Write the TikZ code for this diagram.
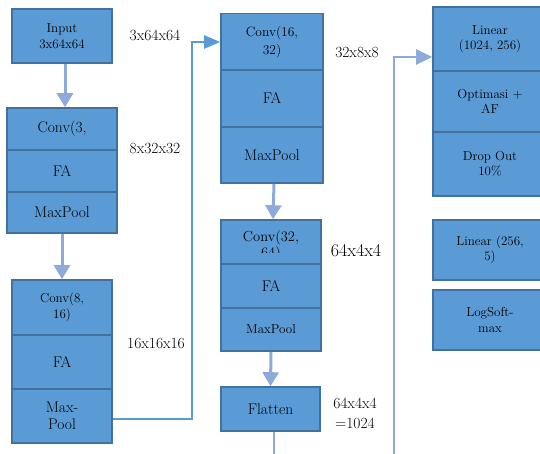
\documentclass[tikz,border=0pt]{standalone}
\usetikzlibrary{arrows.meta}
\definecolor{boxfill}{HTML}{5B9BD5}
\definecolor{boxline}{HTML}{41719C}
\definecolor{lav}{HTML}{8EAADB}
\definecolor{conn}{HTML}{5B9BD5}
\newcommand\fsmall{\fontsize{13}{15.5}\selectfont}
\newcommand\fbig{\fontsize{15.5}{17}\selectfont}
\tikzset{
  cell/.style={draw=boxline, fill=boxfill, line width=1.6pt, inner sep=0pt, align=center, font=\fbig},
  smallcell/.style={cell, font=\fsmall},
  lbl/.style={inner sep=0pt, align=center, font=\fbig},
  thickarrow/.style={draw=lav, line width=3pt, -{Triangle[length=14pt,width=16pt]}},
  thinlav/.style={draw=lav, line width=2.2pt},
  bluearrow/.style={draw=conn, line width=2.2pt, -{Triangle[length=16pt,width=13pt]}},
  lavarrow/.style={draw=lav, line width=2.2pt, -{Triangle[length=16pt,width=15pt]}}
}
\begin{document}
\begin{tikzpicture}[x=1pt, y=-1pt]
\useasboundingbox (0,0) rectangle (540,454);
\clip (0,0) rectangle (540,454);
% column 1
\node[smallcell, minimum width=100pt, minimum height=54pt] (in) at (62,36) {Input\\3x64x64};
\node[cell, minimum width=110pt, minimum height=42pt] (b2a) at (62,129) {Conv(3,};
\node[cell, minimum width=110pt, minimum height=42pt] (b2b) at (62,171) {FA};
\node[cell, minimum width=110pt, minimum height=41pt] (b2c) at (62,212.5) {MaxPool};
\node[smallcell, minimum width=100pt, minimum height=55pt] (b3a) at (62,307.5) {Conv(8,\\16)};
\node[cell, minimum width=100pt, minimum height=54pt] (b3b) at (62,362) {FA};
\node[cell, minimum width=100pt, minimum height=54pt] (b3c) at (62,416) {Max-\\Pool};
% column 2
\node[smallcell, minimum width=102pt, minimum height=57pt, font=\fontsize{13.5}{17.5}\selectfont] (b4a) at (272,42) {Conv(16,\\32)};
\node[cell, minimum width=102pt, minimum height=57pt] (b4b) at (272,98.5) {FA};
\node[cell, minimum width=102pt, minimum height=56pt] (b4c) at (272,155) {MaxPool};
\node[cell, minimum width=100pt, minimum height=44pt] (b5a) at (271,242) {};
\begin{scope}
\clip (222,221) rectangle (320,252);
\node[lbl, font=\fontsize{14.5}{16}\selectfont] (b5t) at (271,246) {Conv(32,\\64)};
\end{scope}
\node[cell, minimum width=100pt, minimum height=44pt] (b5b) at (271,286) {FA};
\node[smallcell, minimum width=100pt, minimum height=43pt] (b5c) at (271,329.5) {MaxPool};
\node[cell, minimum width=99pt, minimum height=44pt] (fl) at (270.5,409) {Flatten};
% column 3
\node[smallcell, minimum width=114pt, minimum height=64pt] (r1) at (490,39) {Linear\\(1024, 256)};
\node[smallcell, minimum width=114pt, minimum height=61pt] (r2) at (490,101.5) {Optimasi +\\AF};
\node[smallcell, minimum width=114pt, minimum height=64pt] (r3) at (490,164) {Drop Out\\10\%};
\node[smallcell, minimum width=114pt, minimum height=60pt] (r4) at (490,250) {Linear (256,\\5)};
\node[smallcell, minimum width=114pt, minimum height=60pt] (r5) at (490,320) {LogSoft-\\max};
% labels
\node[lbl] (l1) at (155,35) {3x64x64};
\node[lbl] (l2) at (155,149) {8x32x32};
\node[lbl] (l3) at (156,343) {16x16x16};
\node[lbl] (l4) at (357,53) {32x8x8};
\node[lbl, font=\fontsize{18}{20}\selectfont] (l5) at (356,251) {64x4x4};
\node[lbl, font=\fontsize{15.5}{20}\selectfont] (l6) at (355,413) {64x4x4\\=1024};
% connectors
\draw[thickarrow] ([xshift=3pt]in.south) -- ([xshift=3pt]b2a.north);
\draw[thickarrow] (b2c.south) -- (b3a.north);
\coordinate (k1) at (192,419);
\draw[bluearrow] ([yshift=-3pt]b3c.east) -- (k1) |- (b4a.west);
\draw[thickarrow] ([xshift=2pt]b4c.south) -- ([xshift=2pt]b5a.north);
\draw[thickarrow] (b5c.south) -- (fl.north);
\coordinate (k2) at (274,456);
\draw[thinlav] ([xshift=3.5pt]fl.south) -- (k2);
\coordinate (k3) at (394,456);
\draw[lavarrow] (k3) |- ([yshift=-18pt]r1.west);
\end{tikzpicture}
\end{document}
